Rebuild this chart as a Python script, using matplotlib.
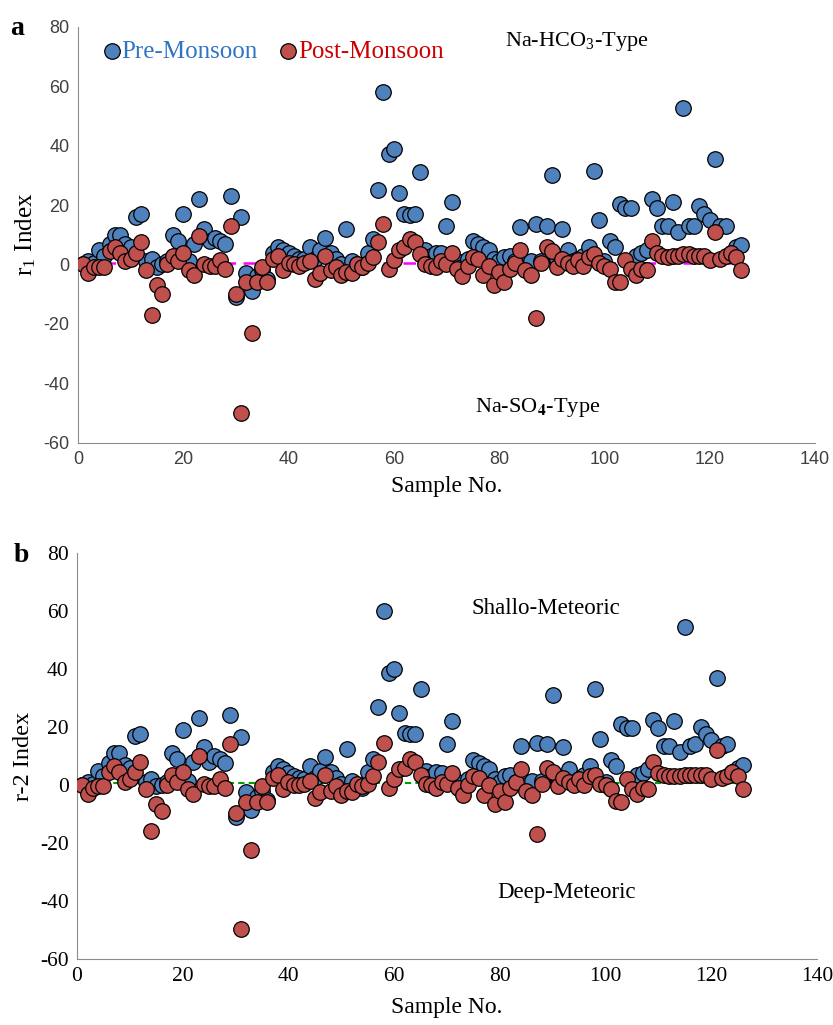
import numpy as np
import matplotlib
matplotlib.use("Agg")
import matplotlib.pyplot as plt

plt.rcParams['font.family'] = ['Liberation Serif', 'DejaVu Serif']
plt.rcParams['mathtext.fontset'] = 'stix'
plt.rcParams['axes.unicode_minus'] = False

# sample numbers 1..126
samples = list(range(1, 127))

# panel a: r1 index
pre_r1 = [0, 1, 0.5, 5, 3, 7, 10, 10, 7, 6,
          16, 17, 1, 2, -1, 0, 1, 10, 8, 17,
          1, 7, 22, 12, 8, 9, 8, 7, 23, -11,
          16, -3, -9, -4, -2, -5, 4, 6, 5, 4,
          3, 2, 2, 6, 2, 5, 9, 4, 2, 0,
          12, 1, 0, -1, 4, 8.5, 25, 58, 37, 39,
          24, 17, 16.5, 17, 31, 5, 3, 4, 4, 13,
          21, 1, -1, 2, 8, 7, 6, 5, 2, 1,
          2.5, 3, 1, 12.5, 0, 1, 13.5, 1, 13, 30,
          2, 12, 5, 1, 2, 3, 6, 31.5, 15, 1,
          8, 6, 20.5, 19, 19, 3, 4, 5, 22, 19,
          13, 13, 21, 11, 52.5, 13, 13, 19.5, 17, 15,
          35.5, 13, 13, 4, 6, 6.5]
post_r1 = [0, -3, -1, -1, -1, 4.4, 6, 4, 1, 2,
           4, 7.5, -2, -17, -7, -10, 0, 3, 1, 4,
           -2, -3.5, 9.5, 0, -0.5, -0.5, 1.5, -1.5, 13, -10,
           -50, -6, -23, -6, -1, -6, 2, 3, -2, 0.5,
           0, -0.5, 0.5, 1, -5, -3, 3, -2, -1, -3.5,
           -2.5, -3, 0, -1, 0.5, 2.5, 7.5, 13.5, -1.5, 1.5,
           5, 6, 8.5, 7.5, 3.5, 0, -0.5, -1, 1, 0,
           4, -1.5, -4, -0.5, 2.5, 2, -3.5, -0.5, -7, -2.5,
           -6, -1.5, 0.5, 5, -2, -3.5, -18, 0.5, 6, 4.5,
           -1, 2, 0.5, -0.5, 1.5, -0.5, 2.5, 3.5, 0.5, -0.5,
           -1.5, -6, -6, 1.5, -1.5, -3.5, -1.5, -2, 8, 4,
           3, 2.5, 3, 3, 3.5, 3.5, 3, 3, 3, 1.5,
           11, 2, 3, 4, 2.5, -2]
line_r1 = [0.5, 0.5]

# panel b: r-2 index
pre_r2 = [0, 1, 0.5, 5, 3, 7.5, 11, 11, 7, 6,
          17, 17.5, 1, 2, -0.5, 0, 1, 11, 9, 19,
          1.5, 8, 23, 13, 8, 10, 9, 7.5, 24, -11,
          16.5, -2.5, -8.5, -4, -2, -5, 4.5, 6.5, 5.5, 4,
          3, 2.5, 2, 6.5, 2.5, 5, 9.5, 4.5, 2.5, 0.5,
          12.5, 1.5, 0, -1, 4.5, 9, 27, 60, 38.5, 40,
          25, 18, 17.5, 17.5, 33, 5, 3, 4.5, 4, 14,
          22, 1, -1, 2, 8.5, 7.5, 6.5, 5.5, 2, 1,
          3, 3.5, 1, 13.5, 0, 1.5, 14.5, 1.5, 14, 31,
          2.5, 13, 5.5, 1, 2, 3.5, 6.5, 33, 16, 1,
          8.5, 6.5, 21, 19.5, 19.5, 3.5, 4, 5.5, 22.5, 19.5,
          13.5, 13.5, 22, 11.5, 54.5, 13.5, 14, 20, 17.5, 15.5,
          37, 13.5, 14, 4.5, 6, 7]
post_r2 = [0, -3, -1, -0.5, -0.5, 4.5, 6.5, 4.5, 1, 2,
           4.5, 8, -1.5, -16, -6.5, -9, 0, 3.5, 1, 4.5,
           -1.5, -3, 10, 0.5, -0.5, -0.5, 2, -1, 14, -9.5,
           -49.5, -6, -22.5, -6, -0.5, -6, 2.5, 3.5, -1.5, 1,
           0, 0, 0.5, 1.5, -4.5, -2.5, 3.5, -2, -0.5, -3.5,
           -2, -2.5, 0.5, -0.5, 0.5, 3, 8, 14.5, -1, 2,
           5.5, 6, 9, 8, 3.5, 0.5, 0, -1, 1, 0.5,
           4, -1, -3.5, 0, 3, 2.5, -3.5, 0, -6.5, -2,
           -6, -1, 1, 5.5, -2, -3.5, -17, 0.5, 6, 4.5,
           -0.5, 2.5, 1, 0, 2, 0, 3, 3.5, 0.5, 0,
           -1.5, -5.5, -6, 2, -1.5, -3, -1, -1.5, 8, 4,
           3.5, 3, 3, 3, 3.5, 3.5, 3.5, 3.5, 3.5, 2,
           12, 2.5, 3, 4.5, 3, -1.5]
line_r2 = [0.7, 0.7]
line_x = [1, 126]

blue = '#4F81BD'
red = '#C0504D'

fig = plt.figure(figsize=(8.33, 10.25), dpi=100)
ax1 = fig.add_axes([0.0936, 0.568, 0.8848, 0.406])
ax2 = fig.add_axes([0.0924, 0.0644, 0.8884, 0.396])

for ax in (ax1, ax2):
    ax.set_xlim(0, 140)
    ax.set_ylim(-60, 80)
    ax.set_xticks(np.arange(0, 141, 20))
    ax.set_yticks(np.arange(-60, 81, 20))
    ax.spines['top'].set_visible(False)
    ax.spines['right'].set_visible(False)
    ax.spines['left'].set_color('#8c8c8c')
    ax.spines['bottom'].set_color('#8c8c8c')
    ax.tick_params(length=0, pad=6)

# panel a
ax1.plot(line_x, line_r1, color='#FF00FF', linestyle=(0, (5, 3)), linewidth=1.8, zorder=1)
ax1.scatter(samples, pre_r1, s=125, color=blue, edgecolor='black', linewidth=0.9,
            zorder=2, label='Pre-Monsoon')
ax1.scatter(samples, post_r1, s=125, color=red, edgecolor='black', linewidth=0.9,
            zorder=3, label='Post-Monsoon')
for lab in ax1.get_xticklabels() + ax1.get_yticklabels():
    lab.set_family(['Liberation Sans', 'DejaVu Sans'])
    lab.set_fontsize(13)
    lab.set_color('#404040')
ax1.set_xlabel('Sample No.', fontsize=17, labelpad=6)
ax1.set_ylabel(r'r$_\mathregular{1}$ Index', fontsize=18, labelpad=4)
leg = ax1.legend(loc='upper left', bbox_to_anchor=(0.005, 1.003), frameon=False,
                 fontsize=18, handletextpad=-0.2, columnspacing=0.6, ncol=2,
                 borderaxespad=0.2, handlelength=1.2)
leg.get_texts()[0].set_color('#2E75C6')
leg.get_texts()[1].set_color('#CC0000')
ax1.text(94.8, 75, r'Na-HCO$_\mathregular{3}$-Type', fontsize=16, ha='center', va='center')
ax1.text(87.4, -48, r'Na-SO$_\mathbf{4}$-Type', fontsize=16, ha='center', va='center')
fig.text(0.012, 0.972, 'a', fontsize=20, fontweight='bold', va='center')

# panel b
ax2.plot(line_x, line_r2, color='#00A000', linestyle=(0, (3, 2)), linewidth=1.5, zorder=1)
ax2.scatter(samples, pre_r2, s=125, color=blue, edgecolor='black', linewidth=0.9, zorder=2)
ax2.scatter(samples, post_r2, s=125, color=red, edgecolor='black', linewidth=0.9, zorder=3)
for lab in ax2.get_xticklabels() + ax2.get_yticklabels():
    lab.set_fontsize(15.5)
ax2.set_xlabel('Sample No.', fontsize=17, labelpad=8)
ax2.set_ylabel('r-2 Index', fontsize=17.5, labelpad=4)
ax2.text(88.7, 61, 'Shallo-Meteoric', fontsize=16.5, ha='center', va='center')
ax2.text(92.6, -37, 'Deep-Meteoric', fontsize=16.5, ha='center', va='center')
fig.text(0.016, 0.458, 'b', fontsize=20, fontweight='bold', va='center')

fig.savefig('out.png', dpi=100)
